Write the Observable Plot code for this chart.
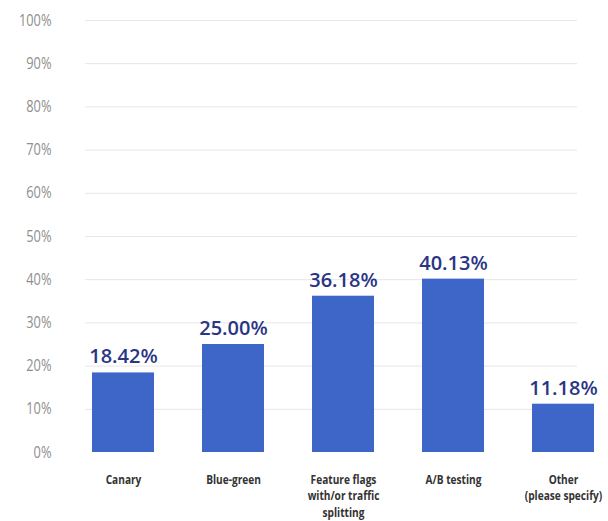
<!DOCTYPE html>
<html>
<head>
<meta charset="utf-8">
<script src="https://cdn.jsdelivr.net/npm/d3@7"></script>
<script src="https://cdn.jsdelivr.net/npm/@observablehq/plot@0.6"></script>
<style>
  html, body { margin: 0; padding: 0; background: #fff; }
  #chart { width: 608px; height: 521px; }
</style>
</head>
<body>
<div id="chart"></div>
<script>
const categories = ["Canary", "Blue-green", "Feature flags\nwith/or traffic\nsplitting", "A/B testing", "Other\n(please specify)"];
const values = [18.42, 25.00, 36.18, 40.13, 11.18];
const yTicks = [0, 10, 20, 30, 40, 50, 60, 70, 80, 90, 100];

const data = categories.map((c, i) => ({category: c, value: values[i]}));

const chart = Plot.plot({
  width: 608,
  height: 521,
  marginTop: 20,
  marginBottom: 69,
  marginLeft: 79,
  marginRight: 2,
  style: {background: "#fff", overflow: "visible"},
  x: {domain: categories, paddingInner: 0.44, paddingOuter: 0.1, label: null},
  y: {domain: [0, 100], label: null},
  marks: [
    Plot.ruleY(yTicks.filter(d => d > 0), {stroke: "#e6e6e6", strokeWidth: 1, insetLeft: 6, insetRight: 29}),
    Plot.barY(data, {x: "category", y: "value", fill: "#3d66c8"}),
    Plot.text(data, {
      x: "category", y: "value",
      text: d => d.value.toFixed(2) + "%",
      dy: -16,
      fill: "#2b3585",
      fontSize: 20,
      fontWeight: 600,
      fontFamily: "Open Sans, sans-serif"
    }),
    Plot.axisY({
      ticks: yTicks,
      tickFormat: d => d + "%",
      tickSize: 0,
      tickPadding: 28,
      fill: "#8e8e8e",
      fontSize: 16,
      fontFamily: "Open Sans, sans-serif",
      className: "ylab",
      label: null
    }),
    Plot.axisX({
      tickSize: 0,
      tickPadding: 20,
      lineAnchor: "top",
      fill: "#333",
      fontSize: 13,
      fontWeight: "bold",
      fontFamily: "Open Sans, sans-serif",
      className: "xlab",
      lineHeight: 1.25,
      label: null
    })
  ]
});
// condense axis label glyphs horizontally (the reference uses a condensed face)
d3.select(chart).selectAll("g[aria-label='y-axis tick label'] text").each(function() {
  const t = this.getAttribute("transform") || "";
  this.setAttribute("transform", t + " scale(0.8,1)");
});
d3.select(chart).selectAll("g[aria-label='x-axis tick label'] text").each(function() {
  const t = this.getAttribute("transform") || "";
  this.setAttribute("transform", t + " scale(0.78,1)");
});
document.getElementById("chart").appendChild(chart);
</script>
</body>
</html>
